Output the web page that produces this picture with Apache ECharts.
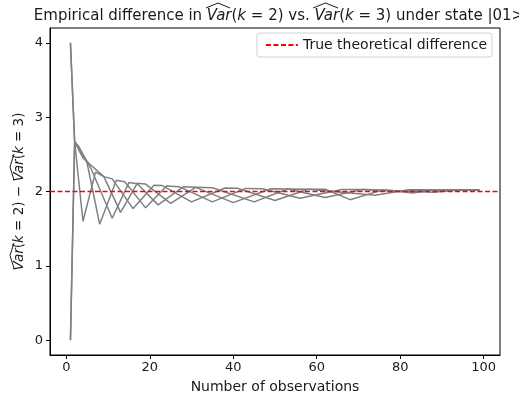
<!DOCTYPE html>
<html>
<head>
<meta charset="utf-8">
<script src="https://cdn.jsdelivr.net/npm/echarts@6/dist/echarts.min.js"></script>
<style>
  html, body { margin: 0; padding: 0; background: #fff; }
  #chart { width: 519px; height: 399px; }
</style>
</head>
<body>
<div id="chart"></div>
<script>
// axis limits / ticks
var xMin = -3.9, xMax = 103.9;
var yMin = -0.2, yMax = 4.2;
var xTicks = [0, 20, 40, 60, 80, 100];
var yTicks = [0, 1, 2, 3, 4];
var trueDiff = 2;

// empirical curves, [observations, difference] vertices
var run1 = [[1,4],[2,2.67],[4,1.6],[7,2.26],[9,2.2],[13,1.72],[17,2.11],[19,2.1],[25,1.84],[31,2.056],[35,2.05],[45,1.86],[53,2.034],[58,2.031],[74,1.95],[82,2.024],[99,2.02]];
var run2 = [[1,0],[2,2.67],[3,2.6],[5,2.38],[8,1.56],[12,2.15],[14,2.13],[19,1.78],[24,2.075],[27,2.065],[35,1.86],[43,2.042],[47,2.038],[56,1.91],[66,2.028],[72,2.026],[88,1.99],[94,2.021],[99,2.02]];
var run3 = [[1,4],[2,2.67],[3,2.6],[6,2.3],[11,1.64],[15,2.12],[17,2.105],[22,1.82],[28,2.063],[31,2.056],[40,1.85],[49,2.037],[53,2.034],[62,1.92],[71,2.026],[80,2.0],[86,2.022],[99,2.02]];
var run4 = [[1,0],[2,2.67],[4,2.45],[9,2.2],[11,2.17],[16,1.77],[21,2.085],[23,2.08],[30,1.86],[38,2.047],[41,2.044],[50,1.88],[58,2.031],[62,2.03],[68,1.89],[76,2.025],[83,1.98],[88,2.022],[99,2.02]];
var runs = [run1, run2, run3, run4];

var font = 'DejaVu Sans';
var ink = '#1a1a1a';
var rich = {
  i: { fontStyle: 'italic', fontFamily: font, fontSize: 15, color: ink }
};
var richY = {
  i: { fontStyle: 'italic', fontFamily: font, fontSize: 13.5, color: ink }
};

var myChart = echarts.init(document.getElementById('chart'), null, {renderer: 'canvas'});

var series = runs.map(function (r) {
  return {
    type: 'line',
    data: r,
    symbol: 'none',
    silent: true,
    lineStyle: { color: '#808080', width: 1.5 },
    itemStyle: { color: '#808080' },
    z: 2
  };
});
series.push({
  name: 'True theoretical difference',
  type: 'line',
  data: [[xMin, trueDiff], [xMax, trueDiff]],
  symbol: 'none',
  lineStyle: { color: '#ff0000', width: 1.5, type: [5, 2.5] },
  itemStyle: { color: '#ff0000', opacity: 0 },
  z: 3
});

// little hats for \widehat{Var}
function hat(x0, x1, yb, yt) {
  return {
    type: 'polyline',
    shape: { points: [[x0, yb], [(x0 + x1) / 2, yt], [x1, yb]] },
    style: { stroke: ink, lineWidth: 1, fill: null },
    silent: true
  };
}
function hatV(y0, y1, xb, xt) {
  return {
    type: 'polyline',
    shape: { points: [[xb, y0], [xt, (y0 + y1) / 2], [xb, y1]] },
    style: { stroke: ink, lineWidth: 1, fill: null },
    silent: true
  };
}

var option = {
  animation: false,
  backgroundColor: '#fff',
  title: {
    text: 'Empirical difference in {i|Var}({i|k} = 2) vs. {i|Var}({i|k} = 3) under state |01>',
    left: 274,
    textAlign: 'center',
    top: 4,
    textStyle: { fontFamily: font, fontSize: 15, fontWeight: 'normal', color: ink, rich: rich }
  },
  legend: {
    data: ['True theoretical difference'],
    right: 27,
    top: 33,
    padding: [5, 5, 5, 8],
    itemWidth: 32,
    itemHeight: 10,
    borderColor: '#d0d0d0',
    borderWidth: 1,
    borderRadius: 3,
    backgroundColor: 'rgba(255,255,255,0.8)',
    textStyle: { fontFamily: font, fontSize: 14, color: ink }
  },
  grid: {
    left: 50, top: 28, width: 450, height: 328,
    show: true, borderColor: '#000', borderWidth: 1, backgroundColor: '#fff'
  },
  xAxis: {
    type: 'value',
    min: xMin, max: xMax,
    name: 'Number of observations',
    nameLocation: 'middle',
    nameGap: 25,
    nameMoveOverlap: false,
    nameTextStyle: { fontFamily: font, fontSize: 14, color: ink },
    axisLine: { show: true, onZero: false, lineStyle: { color: '#000' } },
    axisTick: { show: true, length: 4, customValues: xTicks, lineStyle: { color: '#000' } },
    axisLabel: { customValues: xTicks, margin: 6, fontFamily: font, fontSize: 13, color: ink },
    splitLine: { show: false }
  },
  yAxis: {
    type: 'value',
    min: yMin, max: yMax,
    name: '{i|Var}({i|k} = 2) − {i|Var}({i|k} = 3)',
    nameLocation: 'middle',
    nameGap: 24,
    nameMoveOverlap: false,
    nameTextStyle: { fontFamily: font, fontSize: 13.5, color: ink, rich: richY },
    axisLine: { show: true, onZero: false, lineStyle: { color: '#000' } },
    axisTick: { show: true, length: 4, customValues: yTicks, lineStyle: { color: '#000' } },
    axisLabel: { customValues: yTicks, margin: 7, fontFamily: font, fontSize: 13, color: ink },
    splitLine: { show: false }
  },
  graphic: [
    hat(206, 230, 8, 3),
    hat(313, 338, 8, 3),
    hatV(268, 243, 14, 10),
    hatV(180, 154, 14, 10)
  ],
  series: series
};

myChart.setOption(option);
</script>
</body>
</html>
